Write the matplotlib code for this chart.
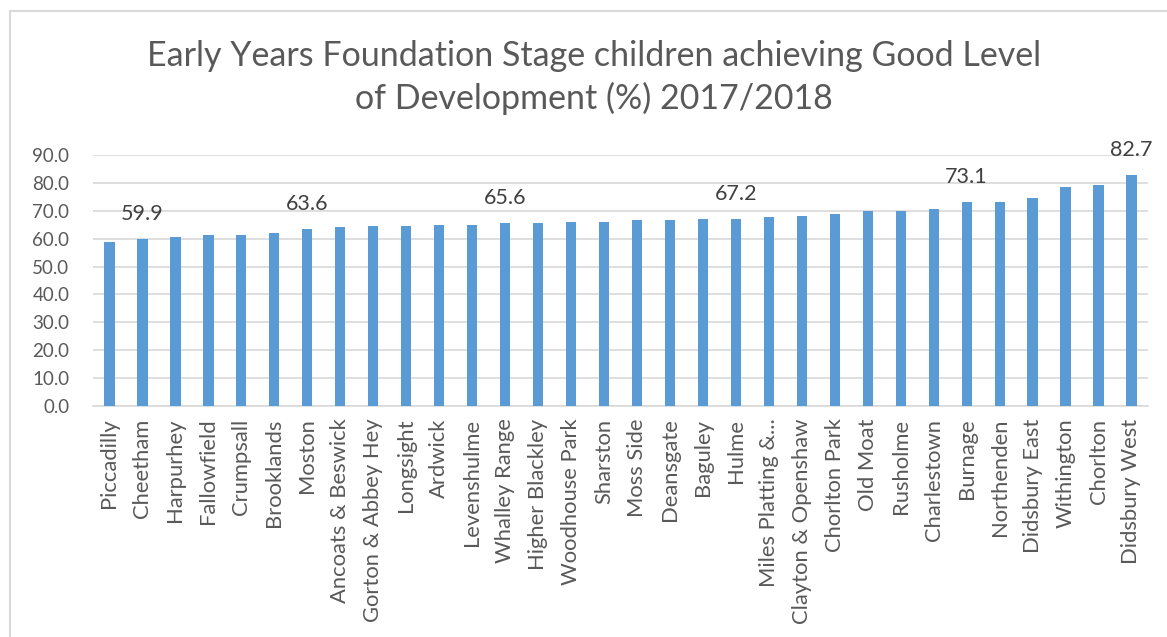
import matplotlib.pyplot as plt
from matplotlib.lines import Line2D

plt.rcParams['font.family'] = ['Lato', 'DejaVu Sans']

# Wards and percentages
wards = ['Piccadilly', 'Cheetham', 'Harpurhey', 'Fallowfield', 'Crumpsall', 'Brooklands',
         'Moston', 'Ancoats & Beswick', 'Gorton & Abbey Hey', 'Longsight', 'Ardwick',
         'Levenshulme', 'Whalley Range', 'Higher Blackley', 'Woodhouse Park', 'Sharston',
         'Moss Side', 'Deansgate', 'Baguley', 'Hulme', 'Miles Platting &...',
         'Clayton & Openshaw', 'Chorlton Park', 'Old Moat', 'Rusholme', 'Charlestown',
         'Burnage', 'Northenden', 'Didsbury East', 'Withington', 'Chorlton', 'Didsbury West']
gld_pct = [58.9, 59.9, 60.5, 61.3, 61.3, 62.1, 63.6, 64.3, 64.4, 64.7, 65.0, 65.0,
           65.6, 65.7, 65.8, 65.9, 66.6, 66.8, 67.2, 67.2, 67.8, 68.3, 68.7, 69.8,
           70.0, 70.5, 73.1, 73.3, 74.5, 78.6, 79.3, 82.7]
labelled = ['Cheetham', 'Moston', 'Whalley Range', 'Hulme', 'Burnage', 'Didsbury West']
y_ticks = [0, 10, 20, 30, 40, 50, 60, 70, 80, 90]

fig = plt.figure(figsize=(11.67, 6.37), dpi=100)
ax = fig.add_axes([0.0797, 0.3626, 0.904, 0.3941])

x = list(range(len(wards)))
ax.bar(x, gld_pct, width=0.31, color='#5B9BD5', zorder=3)

ax.set_xlim(-0.5, len(wards) - 0.5)
ax.set_ylim(0, 90)
ax.set_yticks(y_ticks)
ax.set_yticklabels([f'{v:.1f}' for v in y_ticks])
ax.set_xticks(x)
ax.set_xticklabels(wards, rotation=90)
ax.tick_params(axis='y', length=0, labelsize=13.5, colors='#595959', pad=17)
ax.tick_params(axis='x', length=0, labelsize=15.8, colors='#595959', pad=9)
ax.grid(axis='y', color='#D9D9D9', linewidth=1.2, zorder=0)
for s in ['top', 'right', 'left']:
    ax.spines[s].set_visible(False)
ax.spines['bottom'].set_color('#D9D9D9')
ax.spines['bottom'].set_linewidth(1.2)

for i, (w, v) in enumerate(zip(wards, gld_pct)):
    if w in labelled:
        ax.annotate(f'{v:.1f}', (i, v), xytext=(0, 18), textcoords='offset points',
                    ha='center', va='center', fontsize=15.5, color='#404040')

fig.text(0.509, 0.878, 'Early Years Foundation Stage children achieving Good Level\nof Development (%) 2017/2018',
         ha='center', va='center', fontsize=24.5, color='#595959', linespacing=1.38)

# chart border (left and top edges visible)
fig.add_artist(Line2D([10 / 1167, 10 / 1167], [0, 1 - 11 / 637], color='#D9D9D9', linewidth=1.5))
fig.add_artist(Line2D([10 / 1167, 1], [1 - 11 / 637, 1 - 11 / 637], color='#D9D9D9', linewidth=1.5))

fig.savefig('out.png', dpi=100)
